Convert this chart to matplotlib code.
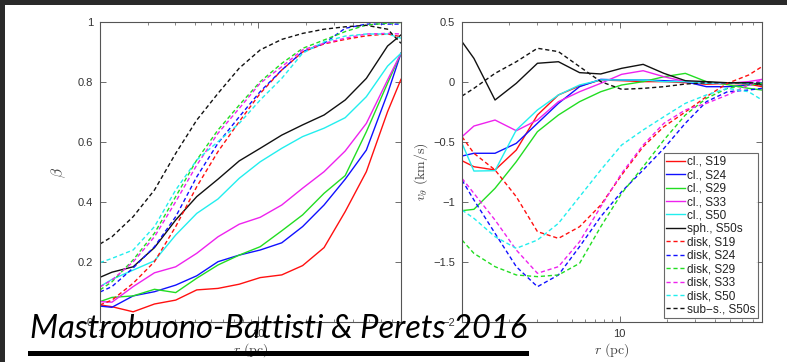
import numpy as np
import matplotlib
matplotlib.use('Agg')
import matplotlib.pyplot as plt
import matplotlib.ticker as ticker
from matplotlib.patches import Rectangle

plt.rcParams['mathtext.fontset'] = 'cm'
plt.rcParams['font.family'] = ['Liberation Sans', 'DejaVu Sans']

# radial bins (pc)
r = [1.0, 1.19, 1.62, 2.21, 3.01, 4.09, 5.57, 7.59, 10.3, 14.1, 19.1, 26.1, 35.5, 48.3, 65.8, 80.0]

# anisotropy beta(r)
beta_cl_S19 = [0.057, 0.051, 0.034, 0.060, 0.073, 0.107, 0.112, 0.126, 0.148, 0.157, 0.188, 0.248, 0.368, 0.501, 0.701, 0.809]
beta_cl_S24 = [0.053, 0.049, 0.087, 0.101, 0.123, 0.154, 0.201, 0.223, 0.240, 0.264, 0.318, 0.390, 0.476, 0.573, 0.762, 0.896]
beta_cl_S29 = [0.068, 0.082, 0.087, 0.109, 0.098, 0.146, 0.190, 0.223, 0.251, 0.304, 0.357, 0.429, 0.488, 0.634, 0.796, 0.896]
beta_cl_S33 = [0.068, 0.066, 0.118, 0.164, 0.184, 0.229, 0.284, 0.326, 0.349, 0.390, 0.446, 0.501, 0.570, 0.662, 0.807, 0.896]
beta_cl_S50 = [0.118, 0.142, 0.173, 0.204, 0.290, 0.362, 0.410, 0.479, 0.534, 0.579, 0.618, 0.646, 0.681, 0.751, 0.853, 0.896]
beta_sph_S50s = [0.149, 0.166, 0.184, 0.248, 0.340, 0.418, 0.476, 0.537, 0.579, 0.623, 0.657, 0.690, 0.740, 0.812, 0.920, 0.957]
beta_disk_S19 = [0.057, 0.073, 0.129, 0.201, 0.318, 0.451, 0.568, 0.668, 0.762, 0.840, 0.900, 0.927, 0.942, 0.954, 0.960, 0.951]
beta_disk_S24 = [0.100, 0.118, 0.180, 0.251, 0.351, 0.484, 0.596, 0.684, 0.768, 0.840, 0.901, 0.929, 0.979, 0.993, 0.993, 0.993]
beta_disk_S29 = [0.107, 0.134, 0.207, 0.296, 0.418, 0.540, 0.640, 0.723, 0.801, 0.862, 0.912, 0.940, 0.968, 0.990, 0.996, 0.998]
beta_disk_S33 = [0.117, 0.140, 0.200, 0.284, 0.401, 0.523, 0.629, 0.712, 0.796, 0.851, 0.907, 0.929, 0.946, 0.960, 0.962, 0.960]
beta_disk_S50 = [0.198, 0.212, 0.240, 0.318, 0.440, 0.540, 0.601, 0.662, 0.740, 0.812, 0.896, 0.934, 0.953, 0.960, 0.960, 0.946]
beta_sub_S50s = [0.260, 0.284, 0.351, 0.440, 0.562, 0.673, 0.762, 0.846, 0.907, 0.942, 0.962, 0.976, 0.984, 0.989, 0.976, 0.929]

# rotation v_theta(r) (km/s)
vt_cl_S19 = [-0.656, -0.706, -0.733, -0.567, -0.275, -0.108, -0.033, 0.017, 0.011, 0.003, 0.003, -0.006, -0.019, -0.011, -0.017, -0.039]
vt_cl_S24 = [-0.617, -0.594, -0.594, -0.511, -0.344, -0.178, -0.039, 0.022, 0.017, 0.017, 0.011, 0.003, -0.039, -0.039, -0.025, -0.006]
vt_cl_S29 = [-1.072, -1.061, -0.886, -0.664, -0.414, -0.275, -0.164, -0.081, -0.025, 0.003, 0.044, 0.072, 0.003, -0.022, -0.053, -0.067]
vt_cl_S33 = [-0.456, -0.367, -0.317, -0.406, -0.317, -0.164, -0.081, -0.011, 0.064, 0.094, 0.044, 0.003, -0.011, -0.011, 0.003, 0.022]
vt_cl_S50 = [-0.511, -0.742, -0.739, -0.400, -0.233, -0.108, -0.025, 0.017, 0.017, 0.017, 0.003, 0.003, -0.011, -0.006, -0.011, -0.011]
vt_sph_S50s = [0.336, 0.197, -0.150, -0.011, 0.156, 0.169, 0.078, 0.067, 0.114, 0.147, 0.072, 0.011, 0.003, -0.006, -0.006, -0.025]
vt_disk_S19 = [-0.456, -0.594, -0.733, -0.956, -1.247, -1.303, -1.206, -1.025, -0.775, -0.539, -0.372, -0.250, -0.122, -0.011, 0.058, 0.128]
vt_disk_S24 = [-0.817, -0.983, -1.261, -1.539, -1.706, -1.608, -1.372, -1.122, -0.914, -0.733, -0.553, -0.344, -0.164, -0.081, -0.067, -0.053]
vt_disk_S29 = [-1.317, -1.428, -1.539, -1.608, -1.622, -1.608, -1.511, -1.206, -0.928, -0.706, -0.483, -0.275, -0.136, -0.053, -0.025, -0.011]
vt_disk_S33 = [-0.803, -0.928, -1.150, -1.400, -1.594, -1.539, -1.331, -1.039, -0.761, -0.525, -0.344, -0.233, -0.178, -0.108, -0.025, 0.017]
vt_disk_S50 = [-1.067, -1.136, -1.289, -1.386, -1.317, -1.178, -0.956, -0.733, -0.525, -0.400, -0.289, -0.178, -0.108, -0.053, -0.081, -0.150]
vt_sub_S50s = [-0.117, -0.053, 0.072, 0.169, 0.281, 0.253, 0.128, 0.003, -0.061, -0.053, -0.039, -0.017, -0.006, -0.006, -0.006, -0.011]

labels = ['cl., S19', 'cl., S24', 'cl., S29', 'cl., S33', 'cl., S50', 'sph., S50s',
          'disk, S19', 'disk, S24', 'disk, S29', 'disk, S33', 'disk, S50', 'sub\u2212s., S50s']
colors = ['#ff1010', '#1010ff', '#22dd22', '#ee22ee', '#22eeee', '#111111'] * 2
styles = ['-'] * 6 + ['--'] * 6

beta_all = [beta_cl_S19, beta_cl_S24, beta_cl_S29, beta_cl_S33, beta_cl_S50, beta_sph_S50s,
            beta_disk_S19, beta_disk_S24, beta_disk_S29, beta_disk_S33, beta_disk_S50, beta_sub_S50s]
vt_all = [vt_cl_S19, vt_cl_S24, vt_cl_S29, vt_cl_S33, vt_cl_S50, vt_sph_S50s,
          vt_disk_S19, vt_disk_S24, vt_disk_S29, vt_disk_S33, vt_disk_S50, vt_sub_S50s]

W, H = 787, 362
fig = plt.figure(figsize=(W / 100, H / 100), dpi=100)
fig.patch.set_facecolor('#2a2a2a')
fig.patches.append(Rectangle((5 / W, 0), 1, (H - 5) / H, transform=fig.transFigure,
                             facecolor='white', edgecolor='none', zorder=-1))

ax1 = fig.add_axes([100 / W, 40 / H, 301 / W, 300 / H])
ax2 = fig.add_axes([462 / W, 40 / H, 300 / W, 300 / H])

fmt = ticker.FuncFormatter(lambda v, p: ('%g' % v).replace('-', '\u2212'))

for ax, data in ((ax1, beta_all), (ax2, vt_all)):
    ax.patch.set_alpha(0)
    for y, c, ls, lab in zip(data, colors, styles, labels):
        line, = ax.plot(r, y, color=c, ls=ls, lw=1.0, label=lab)
        if ls == '--':
            line.set_dashes((3, 2))
    ax.set_xscale('log')
    ax.set_xlim(1, 80)
    ax.xaxis.set_major_formatter(fmt)
    ax.xaxis.set_minor_formatter(ticker.NullFormatter())
    ax.yaxis.set_major_formatter(fmt)
    ax.tick_params(which='both', direction='in', top=True, right=True,
                   labelsize=8, labelcolor='#333333', color='#555555')
    ax.tick_params(which='major', length=4, width=0.6, pad=5)
    ax.tick_params(which='minor', length=2, width=0.5)
    for s in ax.spines.values():
        s.set_color('#555555')
        s.set_linewidth(0.8)
    ax.set_xlabel(r'$r\ \mathrm{(pc)}$', fontsize=10, color='#444444')
    ax.xaxis.set_label_coords(0.5, -0.065)

ax1.set_ylim(0, 1)
ax1.set_yticks([0, 0.2, 0.4, 0.6, 0.8, 1])
ax1.set_ylabel(r'$\beta$', fontsize=11, color='#444444')
ax1.yaxis.set_label_coords(-0.105, 0.5)

ax2.set_ylim(-2, 0.5)
ax2.set_yticks([-2, -1.5, -1, -0.5, 0, 0.5])
ax2.set_ylabel(r'$v_\theta\ \mathrm{(km/s)}$', fontsize=10, color='#444444')
ax2.yaxis.set_label_coords(-0.105, 0.5)

leg = ax2.legend(loc='lower right', fontsize=8.5, frameon=True, fancybox=False,
                 handlelength=1.6, handletextpad=0.15, labelspacing=0.12,
                 borderpad=0.25, borderaxespad=0.3)
leg.get_frame().set_edgecolor('#444444')
leg.get_frame().set_linewidth(0.8)
for t in leg.get_texts():
    t.set_color('#222222')

# caption with underline
fig.text(30 / W, (H - 338) / H, 'Mastrobuono-Battisti & Perets 2016',
         family=['Lato', 'DejaVu Sans'], style='italic', fontsize=23.5,
         color='black', va='baseline', ha='left', zorder=10)
fig.patches.append(Rectangle((28 / W, (H - 355.5) / H), 501 / W, 4.5 / H,
                             transform=fig.transFigure, facecolor='black',
                             edgecolor='none', zorder=10))

fig.savefig('out.png', dpi=100, facecolor=fig.get_facecolor())
